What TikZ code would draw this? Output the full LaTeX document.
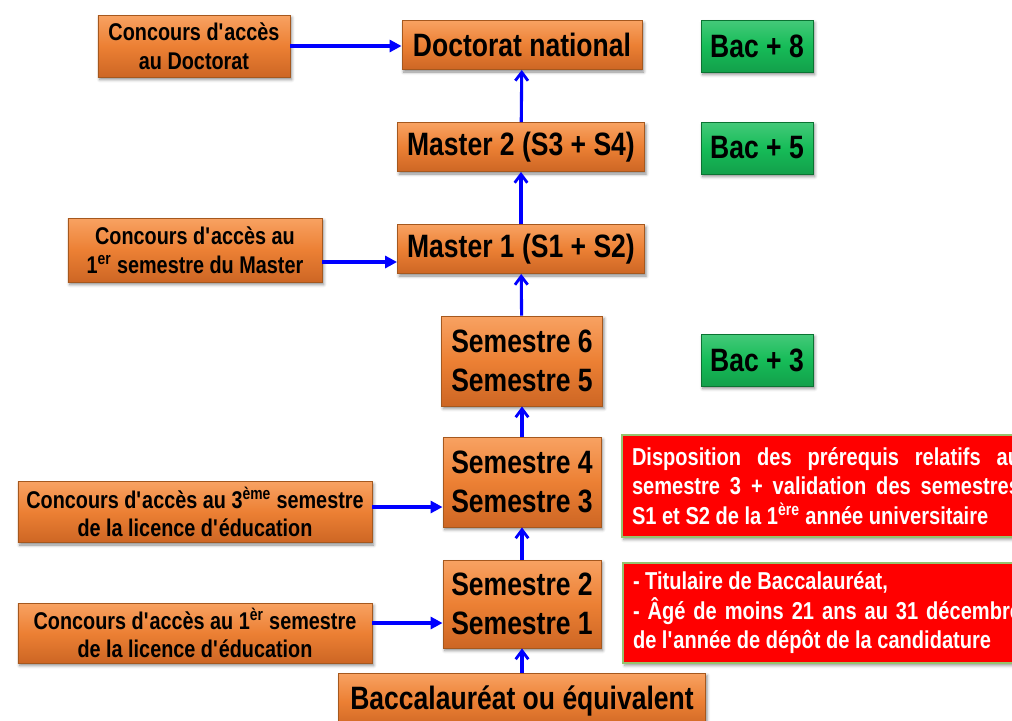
\documentclass[tikz,border=0pt]{standalone}
\usepackage{fontspec}
\setmainfont{Liberation Sans}[FakeStretch=0.82]
\usetikzlibrary{arrows.meta,shadows.blur}
\definecolor{orgm}{RGB}{236,128,52}
\definecolor{orgl}{RGB}{248,162,98}
\definecolor{orgd}{RGB}{205,102,36}
\definecolor{orgb}{RGB}{165,88,30}
\definecolor{grnm}{RGB}{22,188,88}
\definecolor{grnb}{RGB}{10,115,50}
\definecolor{redm}{RGB}{255,0,0}
\definecolor{redb}{RGB}{150,195,110}
\definecolor{arrblue}{RGB}{0,0,255}
\begin{document}
\begin{tikzpicture} [x=.25mm,y=-.25mm,
    obox/.style={draw=orgb,line width=.6pt,top color=orgl,bottom color=orgd,middle color=orgm,
      inner sep=0pt,align=center,font=\bfseries\fontsize{23}{28}\selectfont,
      blur shadow={shadow xshift=1.2pt,shadow yshift=-1.8pt,shadow opacity=45}},
    cbox/.style={obox,font=\bfseries\fontsize{17.2}{20.6}\selectfont},
    gbox/.style={obox,draw=grnb,top color=grnm!80!white,bottom color=grnm!85!black,middle color=grnm,
      minimum width=28mm,minimum height=13mm},
    rbox/.style={draw=redb,line width=.8pt,fill=redm,text=white,text width=97mm,inner xsep=2.5mm,
      inner ysep=0pt,minimum height=25.5mm,align=justify,font=\bfseries\fontsize{17.4}{21}\selectfont,
      blur shadow={shadow xshift=1.2pt,shadow yshift=-1.8pt,shadow opacity=40}},
    varr/.style={draw=arrblue,line width=2.2pt,-{Straight Barb[length=6pt,width=9pt,line width=2pt]}},
    harr/.style={draw=arrblue,line width=2.2pt,-{Triangle[length=8.5pt,width=8.5pt]}}]
        \useasboundingbox (0,0) rectangle (1012,720);
        \clip (0,0) rectangle (1012,720);
% main column
        \node[obox,minimum width=60mm,minimum height=12.25mm] (doc) at (522,45) {Doctorat national};
        \node[obox,minimum width=61.75mm,minimum height=12.25mm] (mast2) at (521,147) {Master 2 (S3 + S4)};
        \node[obox,minimum width=61.75mm,minimum height=12.25mm] (mast1) at (521,249) {Master 1 (S1 + S2)};
        \node[obox,minimum width=40.25mm,minimum height=22.5mm] (sem65) at (522,361) {Semestre 6\\Semestre 5};
        \node[obox,minimum width=39.5mm,minimum height=22.5mm] (sem43) at (522,482) {Semestre 4\\Semestre 3};
        \node[obox,minimum width=39.5mm,minimum height=22mm] (sem21) at (522,604) {Semestre 2\\Semestre 1};
        \node[obox,minimum width=91.75mm,minimum height=14mm] (bac) at (522,701) {Baccalauréat ou équivalent};
% concours
        \node[cbox,minimum width=48mm,minimum height=15.5mm] (cdoc) at (194,46) {Concours d\textquotesingle accès\\au Doctorat};
        \node[cbox,minimum width=63.5mm,minimum height=16mm] (cmast) at (195,250) {Concours d\textquotesingle accès au\\1\textsuperscript{er} semestre du Master};
        \node[cbox,minimum width=88.5mm,minimum height=15.25mm] (csem3) at (195,512) {Concours d\textquotesingle accès au 3\textsuperscript{ème} semestre\\de la licence d\textquotesingle éducation};
        \node[cbox,minimum width=88.5mm,minimum height=15mm] (csem1) at (195,633) {Concours d\textquotesingle accès au 1\textsuperscript{èr} semestre\\de la licence d\textquotesingle éducation};
% niveaux
        \node[gbox] (bac8) at (757,46) {Bac + 8};
        \node[gbox] (bac5) at (757,148) {Bac + 5};
        \node[gbox] (bac3) at (757,360) {Bac + 3};
% conditions
        \node[rbox] (cond3) at (826,486) {Disposition des prérequis relatifs au\linebreak semestre 3 + validation des semestres\linebreak S1 et S2 de la 1\textsuperscript{ère} année universitaire};
        \node[rbox,minimum height=25mm] (cond1) at (827,613) {- Titulaire de Baccalauréat,\\- Âgé de moins 21 ans au 31 décembre\linebreak de l\textquotesingle année de dépôt de la candidature};
% arrows
        \draw [varr] (mast2) -- (doc);
        \draw [varr] (mast1) -- (mast2);
        \draw [varr] (sem65) -- (mast1);
        \draw [varr] (sem43) -- (sem65);
        \draw [varr] (sem21) -- (sem43);
        \draw [varr] (bac) -- (sem21);
        \draw [harr] (cdoc.east |- 0,46) -- (doc.west |- 0,46);
        \draw [harr] (cmast.east |- 0,262) -- (mast1.west |- 0,262);
        \draw [harr] (csem3.east |- 0,507) -- (sem43.west |- 0,507);
        \draw [harr] (csem1.east |- 0,623) -- (sem21.west |- 0,623);
    \end{tikzpicture}
\end{document}
